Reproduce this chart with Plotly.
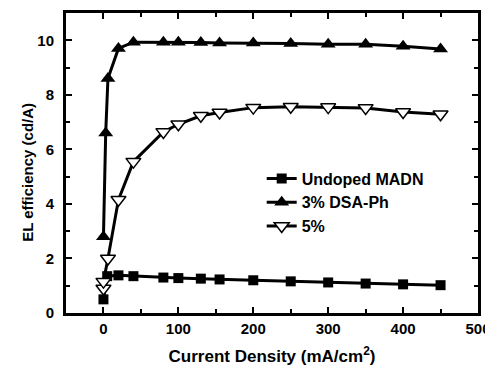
import plotly.graph_objects as go

undoped_x = [0, 5, 20, 40, 80, 100, 130, 155, 200, 250, 300, 350, 400, 450]
undoped_y = [0.5, 1.35, 1.38, 1.35, 1.3, 1.28, 1.26, 1.23, 1.2, 1.16, 1.12, 1.08, 1.05, 1.02]

dsa3_x = [0, 3, 6, 20, 40, 80, 100, 130, 155, 200, 250, 300, 350, 400, 450]
dsa3_y = [2.8, 6.6, 8.6, 9.7, 9.93, 9.93, 9.93, 9.92, 9.9, 9.9, 9.88, 9.85, 9.85, 9.78, 9.68]

p5_x = [0, 0, 6, 20, 40, 80, 100, 130, 155, 200, 250, 300, 350, 400, 450]
p5_y = [0.9, 1.15, 2.0, 4.15, 5.55, 6.64, 6.92, 7.23, 7.35, 7.53, 7.56, 7.55, 7.52, 7.37, 7.29]

series_names = ["Undoped MADN", "3% DSA-Ph", "5%"]
x_title = "Current Density (mA/cm<sup>2</sup>)"
y_title = "EL efficiency (cd/A)"

fig = go.Figure()
fig.add_trace(go.Scatter(x=undoped_x, y=undoped_y, name=series_names[0], mode="lines+markers",
                         line=dict(color="black", width=3),
                         marker=dict(symbol="square", size=10, color="black")))
fig.add_trace(go.Scatter(x=dsa3_x, y=dsa3_y, name=series_names[1], mode="lines+markers",
                         line=dict(color="black", width=3),
                         marker=dict(symbol="triangle-up", size=13, color="black")))
fig.add_trace(go.Scatter(x=p5_x, y=p5_y, name=series_names[2], mode="lines+markers",
                         line=dict(color="black", width=3),
                         marker=dict(symbol="triangle-down", size=13, color="white",
                                     line=dict(color="black", width=1.5))))

font_family = "Liberation Sans, Arial, sans-serif"
# the page body adds an 8px offset, so margins are shifted to compensate
fig.update_layout(
    width=493, height=365,
    margin=dict(l=58, r=23, t=5, b=60),
    paper_bgcolor="white", plot_bgcolor="white",
    font=dict(family=font_family, color="black", size=15, weight="bold"),
    showlegend=True,
    legend=dict(x=0.475, y=0.505, xanchor="left", yanchor="top",
                bgcolor="rgba(0,0,0,0)", font=dict(size=16, weight="bold"),
                tracegroupgap=0, itemwidth=30),
    annotations=[dict(text=y_title, xref="paper", yref="paper", x=-0.095, y=0.47,
                      xanchor="center", yanchor="middle", textangle=-90, showarrow=False,
                      font=dict(size=15, weight="bold"))],
)
fig.update_xaxes(range=[-50, 500], tickvals=[0, 100, 200, 300, 400, 500],
                 ticks="inside", ticklen=6, tickwidth=2, tickcolor="black",
                 minor=dict(dtick=50, tick0=0, ticks="inside", ticklen=4, tickwidth=1.5, tickcolor="black"),
                 showline=True, linewidth=3, linecolor="black", mirror="ticks",
                 showgrid=False, zeroline=False, automargin=False,
                 tickfont=dict(size=15, weight="bold"),
                 title=dict(text=x_title, font=dict(size=17, weight="bold")))
fig.update_yaxes(range=[0, 11], tickvals=[0, 2, 4, 6, 8, 10],
                 ticks="inside", ticklen=6, tickwidth=2, tickcolor="black",
                 minor=dict(dtick=1, tick0=0, ticks="inside", ticklen=4, tickwidth=1.5, tickcolor="black"),
                 showline=True, linewidth=3, linecolor="black", mirror="ticks",
                 showgrid=False, zeroline=False, automargin=False,
                 ticklabelstandoff=6,
                 tickfont=dict(size=15, weight="bold"))

fig.write_html("out.html")
